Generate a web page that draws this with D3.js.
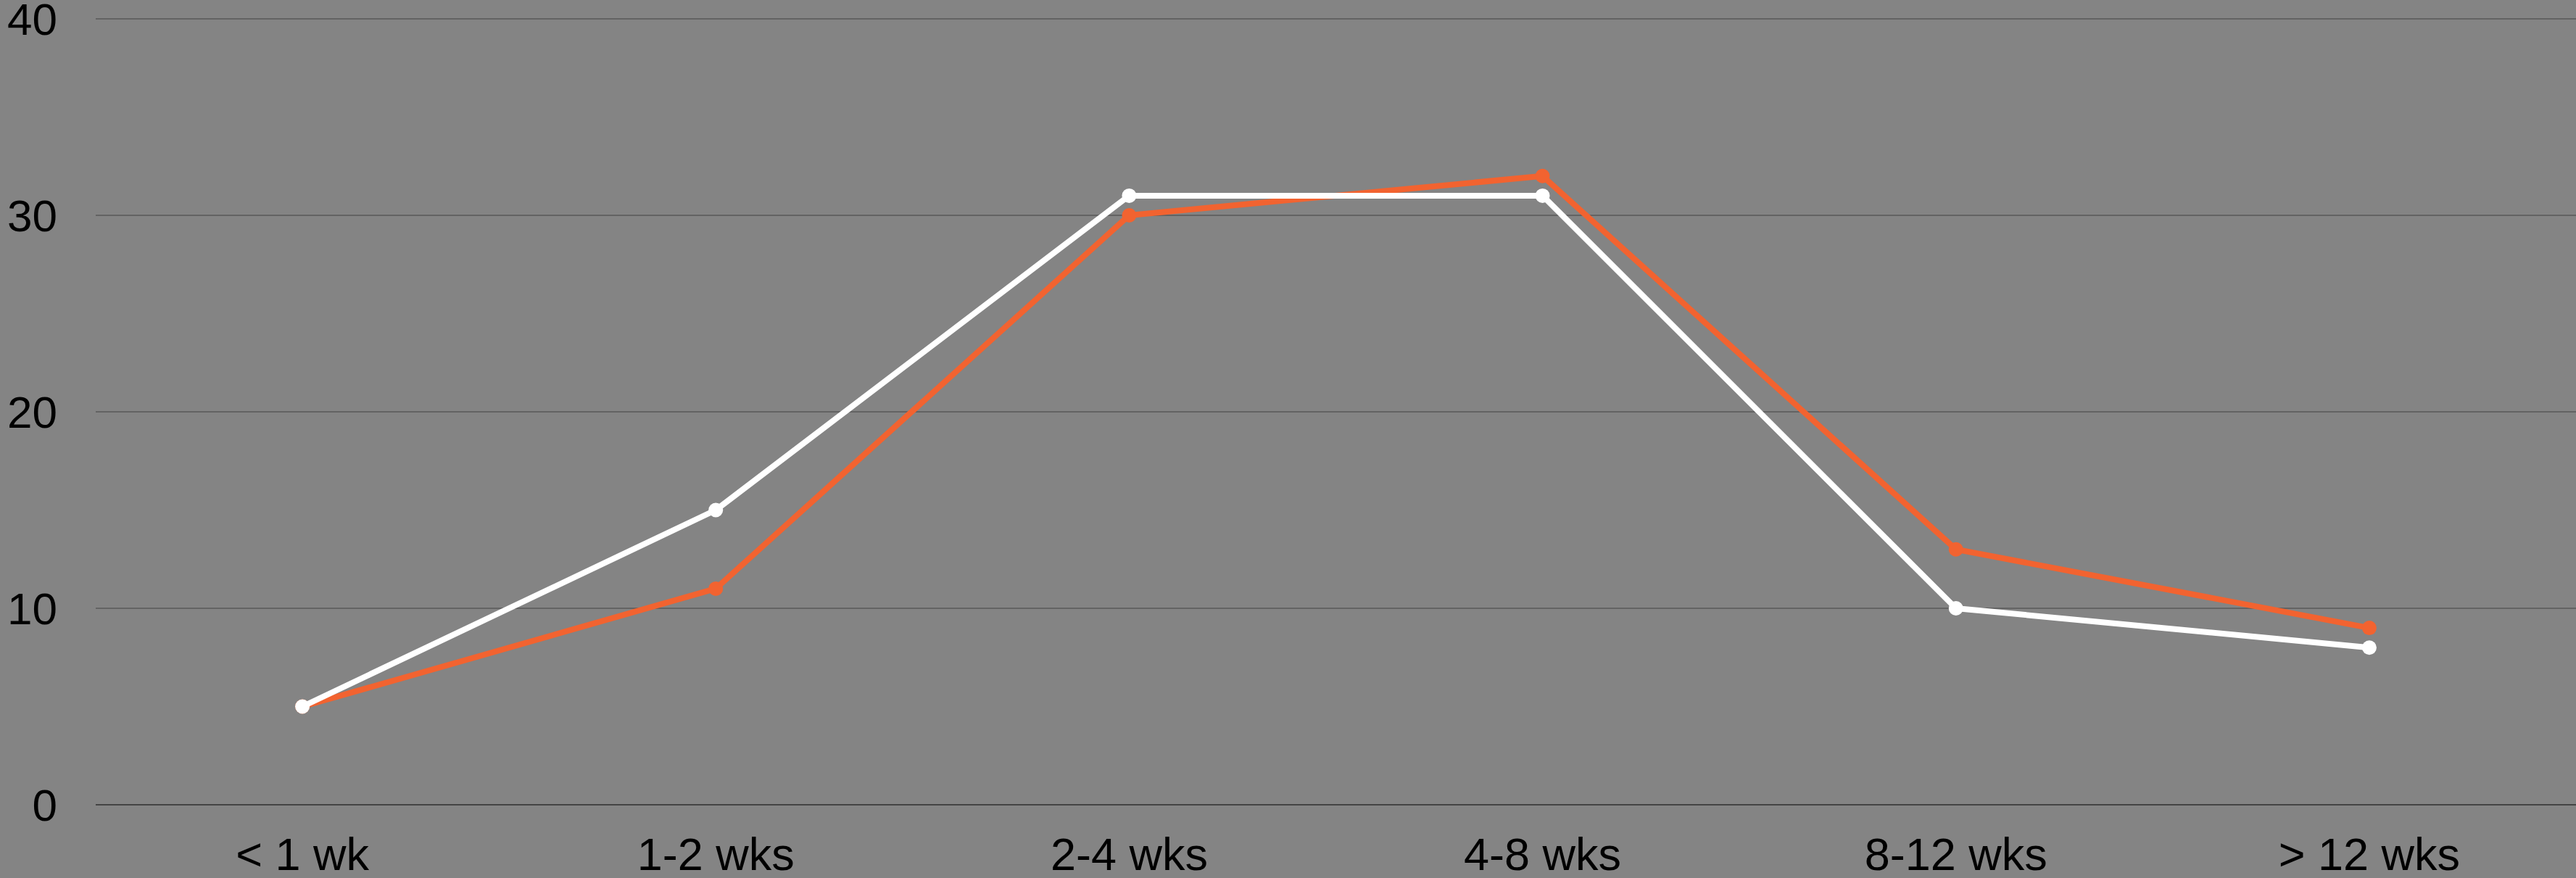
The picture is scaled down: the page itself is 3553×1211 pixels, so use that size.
<!DOCTYPE html>
<html>
<head>
<meta charset="utf-8">
<script src="https://cdn.jsdelivr.net/npm/d3@7"></script>
<style>
  html, body { margin: 0; padding: 0; background: #848484; overflow: hidden; }
  text { font-family: "Liberation Sans", Arial, sans-serif; }
</style>
</head>
<body>
<svg id="chart" width="3553" height="1211"></svg>
<script>
const categories = ["< 1 wk", "1-2 wks", "2-4 wks", "4-8 wks", "8-12 wks", "> 12 wks"];
const orangeValues = [5, 11, 30, 32, 13, 9];
const whiteValues = [5, 15, 31, 31, 10, 8];
const yTicks = [0, 10, 20, 30, 40];

const svg = d3.select("#chart");
const width = +svg.attr("width");
const height = +svg.attr("height");

const margin = { top: 26, right: 0, bottom: 101, left: 132 };
const innerWidth = width - margin.left - margin.right;
const innerHeight = height - margin.top - margin.bottom;

svg.append("rect")
    .attr("width", width)
    .attr("height", height)
    .attr("fill", "#848484");

const g = svg.append("g")
    .attr("transform", `translate(${margin.left},${margin.top})`);

const x = d3.scaleBand()
    .domain(categories)
    .range([0, innerWidth]);

const y = d3.scaleLinear()
    .domain([0, 40])
    .range([innerHeight, 0]);

// gridlines
g.append("g")
    .selectAll("line")
    .data(yTicks)
    .join("line")
    .attr("x1", 0)
    .attr("x2", innerWidth)
    .attr("y1", d => y(d))
    .attr("y2", d => y(d))
    .attr("stroke", d => d === 0 ? "#444" : "#636363")
    .attr("stroke-width", 2);

// y axis labels
g.append("g")
    .selectAll("text")
    .data(yTicks)
    .join("text")
    .attr("x", -53)
    .attr("y", d => y(d))
    .attr("dy", "0.36em")
    .attr("text-anchor", "end")
    .attr("font-size", 62)
    .attr("fill", "#000")
    .text(d => d);

// x axis labels
g.append("g")
    .selectAll("text")
    .data(categories)
    .join("text")
    .attr("x", d => x(d) + x.bandwidth() / 2)
    .attr("y", innerHeight + 90)
    .attr("text-anchor", "middle")
    .attr("font-size", 63)
    .attr("fill", "#000")
    .text(d => d);

const line = d3.line()
    .x((d, i) => x(categories[i]) + x.bandwidth() / 2)
    .y(d => y(d));

const series = [
    { values: orangeValues, color: "#f26330" },
    { values: whiteValues, color: "#ffffff" }
];

series.forEach(s => {
    g.append("path")
        .datum(s.values)
        .attr("fill", "none")
        .attr("stroke", s.color)
        .attr("stroke-width", 8)
        .attr("stroke-linejoin", "round")
        .attr("d", line);

    g.append("g")
        .selectAll("circle")
        .data(s.values)
        .join("circle")
        .attr("cx", (d, i) => x(categories[i]) + x.bandwidth() / 2)
        .attr("cy", d => y(d))
        .attr("r", 10)
        .attr("fill", s.color);
});
</script>
</body>
</html>
